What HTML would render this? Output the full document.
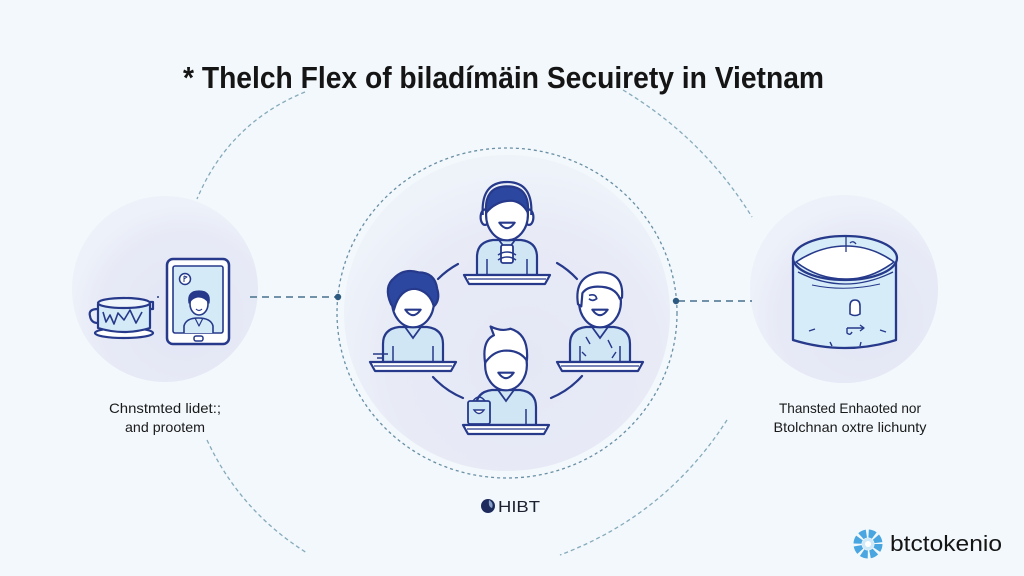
<!DOCTYPE html>
<html><head><meta charset="utf-8"><style>
html,body{margin:0;padding:0;background:#f2f8fb;}
svg{display:block;}
text{font-family:"Liberation Sans",Arial,sans-serif;}
</style></head><body>
<svg width="1024" height="576" viewBox="0 0 1024 576" xmlns="http://www.w3.org/2000/svg">
<defs>
<radialGradient id="gc" cx="0.55" cy="0.65" r="0.6">
<stop offset="0" stop-color="#e4e7f5"/><stop offset="0.7" stop-color="#e8ebf6"/><stop offset="1" stop-color="#eef3fa"/>
</radialGradient>
<radialGradient id="gs" cx="0.6" cy="0.65" r="0.6">
<stop offset="0" stop-color="#e2e5f4"/><stop offset="0.75" stop-color="#e7eaf6"/><stop offset="1" stop-color="#edf1f9"/>
</radialGradient>
<g id="desk">
<path d="M-43,60 L43,60 L38,69 L-38,69 Z" fill="#fff" stroke="#26398a" stroke-width="2.2" stroke-linejoin="round"/>
<line x1="-39" y1="64" x2="39" y2="64" stroke="#26398a" stroke-width="1.2"/>
</g>
<g id="body">
<path d="M-30,60 L-30,42 Q-30,27 -14,25 L14,25 Q30,27 30,42 L30,60 Z" fill="#d0e6f5" stroke="#26398a" stroke-width="2.2" stroke-linejoin="round"/>
<path d="M-8,25 L0,36 L8,25" fill="none" stroke="#26398a" stroke-width="1.8"/>
<line x1="-20" y1="44" x2="-20" y2="60" stroke="#26398a" stroke-width="1.5"/>
<line x1="20" y1="44" x2="20" y2="60" stroke="#26398a" stroke-width="1.5"/>
</g>
<g id="face">
<ellipse cx="0" cy="0" rx="19" ry="23" fill="#fff" stroke="#26398a" stroke-width="2"/>
<path d="M-7,7 Q0,17 7,7 Z" fill="#fff" stroke="#26398a" stroke-width="1.9" stroke-linejoin="round"/>
</g>
</defs>

<rect width="1024" height="576" fill="#f2f8fb"/>

<!-- outer dashed arcs -->
<g fill="none" stroke="#86aabb" stroke-width="1.3" stroke-dasharray="4 3">
<path d="M305,92 Q229,123 197,199"/>
<path d="M623,90 Q703,138 752,217"/>
<path d="M207,440 Q240,511 307,553"/>
<path d="M727,420 Q666,515 560,555"/>
</g>

<!-- side circles -->
<circle cx="165" cy="289" r="93" fill="url(#gs)"/>
<circle cx="844" cy="289" r="94" fill="url(#gs)"/>

<!-- central circle -->
<ellipse cx="507" cy="313" rx="163" ry="158" fill="url(#gc)"/>
<ellipse cx="507" cy="313" rx="170" ry="165" fill="none" stroke="#6a8fa5" stroke-width="1.3" stroke-dasharray="3 3"/>

<!-- connectors -->
<line x1="250" y1="297" x2="336" y2="297" stroke="#46708c" stroke-width="1.5" stroke-dasharray="7 5"/>
<circle cx="338" cy="297" r="3.2" fill="#2d5a80"/>
<line x1="678" y1="301" x2="752" y2="301" stroke="#46708c" stroke-width="1.5" stroke-dasharray="7 5"/>
<circle cx="676" cy="301" r="3.2" fill="#2d5a80"/>

<!-- title -->
<text x="183" y="88" font-size="31" font-weight="bold" fill="#151515" textLength="641" lengthAdjust="spacingAndGlyphs">* Thelch Flex of biladímäin Secuirety in Vietnam</text>

<!-- left icon: cup -->
<g stroke="#26398a" stroke-width="2.2" stroke-linejoin="round" fill="none">
<ellipse cx="124" cy="333" rx="29" ry="5" fill="#fff"/>
<path d="M98,304 L98,328 Q124,336 150,328 L150,304" fill="#d4eaf7"/>
<ellipse cx="124" cy="303" rx="26" ry="5" fill="#eef6fc"/>
<path d="M98,309 Q88,309 90,316 Q91,323 98,323"/>
<path d="M150,302 L153,302 L153,309 L150,309"/>
<path d="M103,312 L106,322 L110,315 L114,324 L118,313 L124,320 L130,310 L136,323 L142,312" stroke-width="1.6"/>
</g>
<circle cx="158" cy="297" r="1" fill="#26398a"/>

<!-- left icon: tablet -->
<g stroke="#26398a" stroke-linejoin="round">
<rect x="167" y="259" width="62" height="85" rx="6" fill="#fff" stroke-width="2.5"/>
<rect x="173" y="266" width="50" height="67" rx="2" fill="#d4ebf7" stroke-width="1.6"/>
<rect x="194" y="336" width="9" height="5" rx="2" fill="#fff" stroke-width="1.5"/>
<circle cx="185" cy="279" r="5.5" fill="#fff" stroke-width="1.5"/>
<path d="M184,276 L184,282 M184,276 L187,277 L184,279" fill="none" stroke-width="1"/>
<path d="M184,333 L184,326 Q186,318 198,318 Q211,318 213,326 L213,333" fill="#d4ebf7" stroke-width="1.6"/>
<ellipse cx="199" cy="304" rx="9" ry="11" fill="#fff" stroke-width="1.6"/>
<path d="M189,303 Q187,291 199,291 Q211,291 209,303 Q204,296 197,297 Q192,298 189,303 Z" fill="#26398a" stroke-width="1.2"/>
<path d="M196,309 Q199,312 202,309" fill="none" stroke-width="1.2"/>
<path d="M195,318 L199,326 L203,318" fill="none" stroke-width="1.2"/>
</g>

<!-- right icon: jar -->
<g stroke="#26398a" stroke-linejoin="round" stroke-width="2.3">
<path d="M793,258 L793,340 Q845,356 896,340 L896,258 Z" fill="#d6ecf8"/>
<ellipse cx="845" cy="258" rx="52" ry="22" fill="#d6ecf8"/>
<path d="M796,262 Q820,246 846,246 Q872,246 894,262 Q870,280 845,279 Q818,279 796,262 Z" fill="#fff" stroke-width="1.6"/>
<path d="M798,272 Q845,296 893,272" fill="none" stroke-width="1.3"/>
<path d="M812,285 Q845,292 880,284" fill="none" stroke-width="1"/>
<line x1="846" y1="236" x2="846" y2="252" stroke-width="1.3"/>
<path d="M850,243 Q853,240 856,244" fill="none" stroke-width="1.3"/>
<path d="M850,306 Q850,300 855,300 Q860,300 860,306 L860,314 Q855,317 850,314 Z" fill="#fff" stroke-width="1.6"/>
<path d="M847,328 L863,328 M860,325 L864,328 L860,331 M847,328 L847,333 Q850,336 852,332" fill="none" stroke-width="1.4"/>
<path d="M809,331 L815,329 M880,330 L886,332 M830,342 L832,346 M861,342 L860,346" stroke-width="1.4"/>
</g>

<!-- central connecting arcs -->
<g fill="none" stroke="#26398a" stroke-width="2.2" stroke-linecap="round">
<path d="M438,279 A85,85 0 0 1 458,264"/>
<path d="M557,263 A85,85 0 0 1 577,279"/>
<path d="M582,376 A85,85 0 0 1 551,398"/>
<path d="M463,398 A85,85 0 0 1 433,377"/>
</g>

<!-- top person -->
<g transform="translate(507,215)">
<use href="#body"/>
<rect x="-6" y="30" width="12" height="18" rx="2" fill="#fff" stroke="#26398a" stroke-width="1.8"/>
<path d="M-9,40 Q0,34 9,40 M-9,45 Q0,39 9,45" fill="none" stroke="#26398a" stroke-width="1.5"/>
<use href="#desk"/>
<g transform="scale(1.1)">
<ellipse cx="-20" cy="2" rx="4" ry="7" fill="#fff" stroke="#26398a" stroke-width="2"/>
<ellipse cx="20" cy="2" rx="4" ry="7" fill="#fff" stroke="#26398a" stroke-width="2"/>
<use href="#face"/>
<path d="M-19,-2 Q-21,-26 0,-26 Q21,-26 19,-2 Q14,-12 4,-13 Q-10,-13 -19,-2 Z" fill="#2b47a0" stroke="#26398a" stroke-width="2"/>
<path d="M-22,0 Q-24,-30 0,-30 Q24,-30 22,0" fill="none" stroke="#26398a" stroke-width="2"/>
</g>
</g>

<!-- left person -->
<g transform="translate(413,302)">
<use href="#body"/>
<use href="#desk"/>
<path d="M-40,52 L-25,52 M-36,56 L-30,56" stroke="#26398a" stroke-width="1.5"/>
<g transform="scale(1.1)">
<use href="#face"/>
<path d="M-20,2 Q-27,-14 -17,-22 Q-8,-31 5,-27 Q20,-27 22,-12 Q25,-2 19,4 Q15,-10 2,-12 Q-12,-12 -17,6 Z" fill="#2b47a0" stroke="#26398a" stroke-width="2"/>
</g>
</g>

<!-- right person -->
<g transform="translate(600,302)">
<use href="#body"/>
<path d="M-14,35 L-10,42 M8,38 L12,46 M-18,50 L-14,54 M16,50 L12,56" stroke="#26398a" stroke-width="1.4"/>
<use href="#desk"/>
<g transform="scale(1.1)">
<use href="#face"/>
<path d="M-20,2 Q-24,-24 0,-27 Q22,-27 20,-4 L18,-3 Q14,-14 -2,-14 Q-12,-14 -16,-8 L-17,4 Z" fill="#fff" stroke="#26398a" stroke-width="2" stroke-linejoin="round"/>
<path d="M-10,-6 Q-4,-8 -3,-3 Q-7,0 -10,-3" fill="none" stroke="#26398a" stroke-width="1.5"/>
</g>
</g>

<!-- bottom person -->
<g transform="translate(506,365)">
<use href="#body"/>
<use href="#desk"/>
<rect x="-38" y="36" width="22" height="23" rx="2" fill="#cde5f5" stroke="#26398a" stroke-width="1.8"/>
<path d="M-33,36 Q-27,28 -21,36" fill="none" stroke="#26398a" stroke-width="1.6"/>
<path d="M-32,45 Q-27,52 -22,45 Z" fill="#fff" stroke="#26398a" stroke-width="1.4"/>
<g transform="scale(1.1)">
<use href="#face"/>
<path d="M-19,-2 Q-22,-22 -11,-27 L-14,-35 Q-4,-30 4,-33 Q21,-28 19,-4 Q12,-14 -2,-13 Q-12,-12 -19,-2 Z" fill="#fff" stroke="#26398a" stroke-width="2" stroke-linejoin="round"/>
</g>
</g>

<!-- labels -->
<g font-size="14" fill="#1a1a1a" text-anchor="middle">
<text x="165" y="413" textLength="112" lengthAdjust="spacingAndGlyphs">Chnstmted lidet:;</text>
<text x="165" y="432" textLength="80" lengthAdjust="spacingAndGlyphs">and prootem</text>
<text x="850" y="413" textLength="142" lengthAdjust="spacingAndGlyphs">Thansted Enhaoted nor</text>
<text x="850" y="432" textLength="153" lengthAdjust="spacingAndGlyphs">Btolchnan oxtre lichunty</text>
</g>

<!-- HIBT -->
<circle cx="488" cy="506" r="7" fill="#1d2b5c"/>
<path d="M489,500 Q494,503 492,508 Q488,507 489,500 Z" fill="#8aa0c8"/>
<text x="498" y="512" font-size="16" fill="#1c2230" textLength="42" lengthAdjust="spacingAndGlyphs">HIBT</text>

<!-- btctokenio -->
<g transform="translate(868,544)">
<circle r="10.5" fill="none" stroke="#4aa6e0" stroke-width="8" stroke-dasharray="6 2.3"/>
<circle r="6" fill="#cfe9f8"/>
<circle r="3" fill="#fff"/>
</g>
<text x="890" y="551" font-size="22" fill="#151515" textLength="112" lengthAdjust="spacingAndGlyphs">btctokenio</text>
</svg>
</body></html>
